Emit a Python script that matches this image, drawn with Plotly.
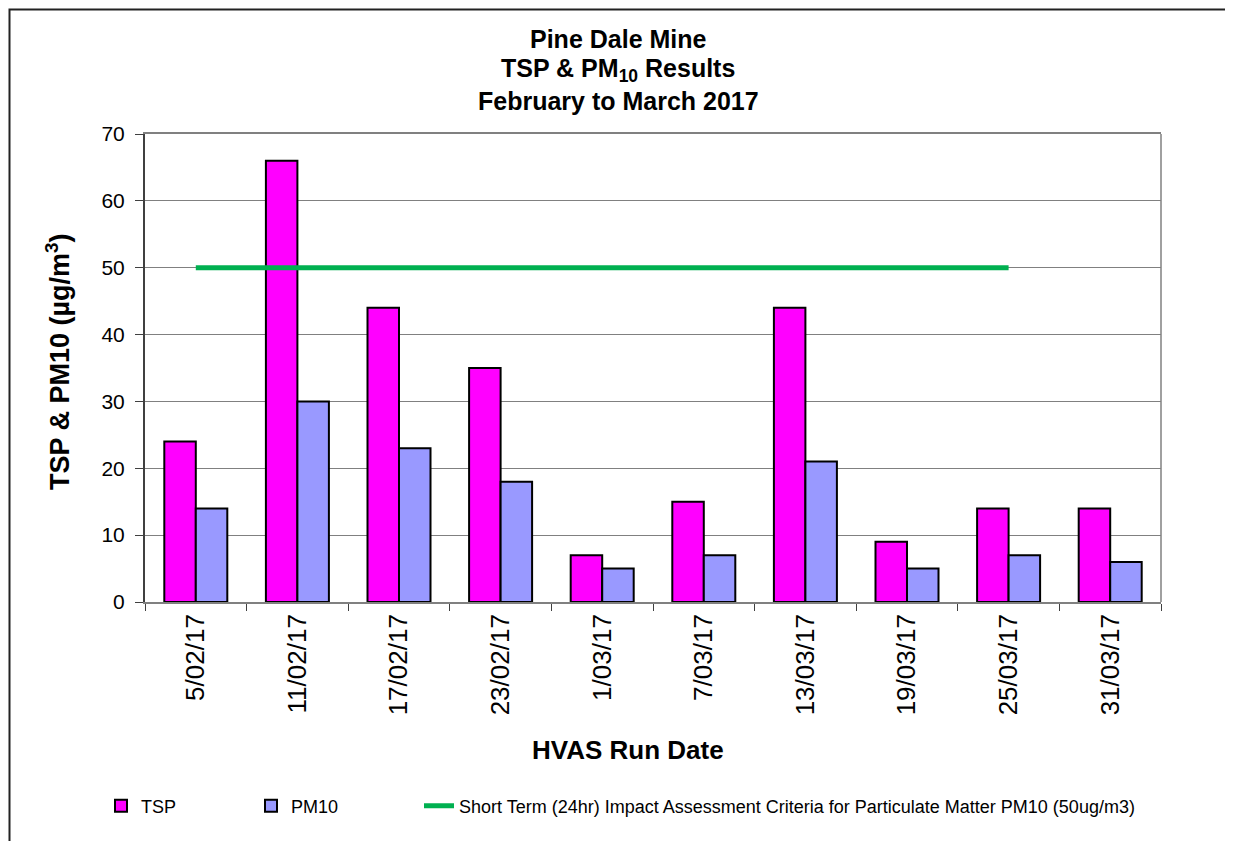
import plotly.graph_objects as go

dates = ["5/02/17", "11/02/17", "17/02/17", "23/02/17", "1/03/17",
         "7/03/17", "13/03/17", "19/03/17", "25/03/17", "31/03/17"]
tsp = [24, 66, 44, 35, 7, 15, 44, 9, 14, 14]
pm10 = [14, 30, 23, 18, 5, 7, 21, 5, 7, 6]
criteria = [50, 50, 50, 50, 50, 50, 50, 50, 50, None]
y_ticks = [0, 10, 20, 30, 40, 50, 60, 70]
title_lines = ["Pine Dale Mine", "TSP &amp; PM<sub>10</sub> Results", "February to March 2017"]

OFF = 8  # page body margin
W, H = 1233 - OFF, 841 - OFF
L, R, T, B = 145 - OFF, 1161 - OFF, 134 - OFF, 602 - OFF
pw, ph = R - L, B - T

def px(x):  # screen x -> paper
    return (x - OFF - L) / pw

def py(y):  # screen y -> paper
    return (B - (y - OFF)) / ph

FONT = "Arial, Liberation Sans, sans-serif"

fig = go.Figure()
fig.add_trace(go.Bar(x=dates, y=tsp, name="TSP", legend="legend",
                     marker=dict(color="#FF00FF", line=dict(color="black", width=2))))
fig.add_trace(go.Bar(x=dates, y=pm10, name="PM10", legend="legend2",
                     marker=dict(color="#9999FF", line=dict(color="black", width=2))))
fig.add_trace(go.Scatter(x=dates, y=criteria, mode="lines", connectgaps=False, legend="legend3",
                         name="Short Term (24hr) Impact Assessment Criteria for Particulate Matter PM10 (50ug/m3)",
                         line=dict(color="#00B050", width=5)))

leg_common = dict(orientation="h", xanchor="left", yanchor="middle", y=py(806),
                  font=dict(size=18, family=FONT, color="black"), bgcolor="rgba(0,0,0,0)")

fig.update_layout(
    width=W, height=H,
    margin=dict(l=L, r=W - R, t=T, b=H - B, autoexpand=False),
    paper_bgcolor="white", plot_bgcolor="white",
    font=dict(family=FONT, color="black"),
    barmode="group", bargap=0.38, bargroupgap=0,
    xaxis=dict(type="category", showgrid=False, ticks="outside", tickson="boundaries",
               ticklen=7, tickcolor="#404040", tickangle=-90,
               tickfont=dict(size=26, family=FONT, color="black"),
               showline=True, linecolor="#808080", linewidth=1.5, mirror=True),
    yaxis=dict(range=[0, 70], tickvals=y_ticks, showgrid=True, gridcolor="#808080", gridwidth=1,
               ticks="outside", ticklen=8, tickcolor="#404040", ticklabelstandoff=6,
               tickfont=dict(size=21, family=FONT, color="black"),
               showline=True, linecolor="#404040", linewidth=2, zeroline=False),
    legend=dict(x=px(101), **leg_common),
    legend2=dict(x=px(251), **leg_common),
    legend3=dict(x=px(419), **leg_common),
    showlegend=True,
)

# title lines
for line_text, yc in zip(title_lines, [39, 70, 101]):
    fig.add_annotation(text="<b>" + line_text + "</b>", xref="paper", yref="paper",
                       x=px(618), y=py(yc), xanchor="center", yanchor="middle",
                       showarrow=False, font=dict(size=25, family=FONT, color="black"))

# axis titles
fig.add_annotation(text="<b>TSP &amp; PM10 (µg/m<sup>3</sup>)</b>", textangle=-90,
                   xref="paper", yref="paper", x=px(58), y=py(362),
                   xanchor="center", yanchor="middle", showarrow=False,
                   font=dict(size=27, family=FONT, color="black"))
fig.add_annotation(text="<b>HVAS Run Date</b>",
                   xref="paper", yref="paper", x=px(628), y=py(750),
                   xanchor="center", yanchor="middle", showarrow=False,
                   font=dict(size=26, family=FONT, color="black"))

# right edge of plot area
fig.add_shape(type="line", xref="paper", yref="paper", x0=1, x1=1, y0=0, y1=1,
              line=dict(color="#808080", width=1.5))
# outer chart frame (kept inside the figure area)
fig.add_shape(type="rect", xref="paper", yref="paper",
              x0=px(OFF + 1.5), x1=px(1230), y0=py(852), y1=py(OFF + 1.5),
              line=dict(color="#222222", width=2))

fig.write_html("out.html")
